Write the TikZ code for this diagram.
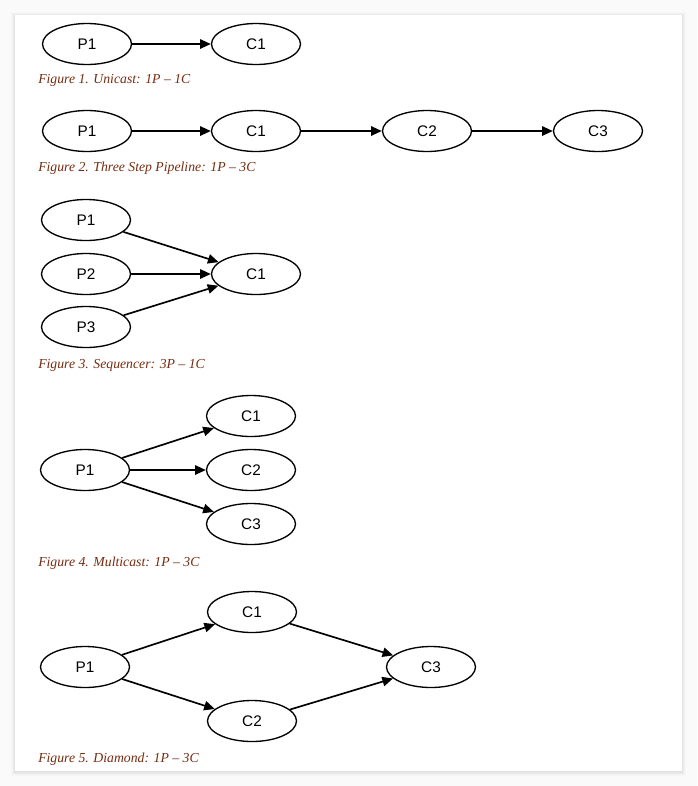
\documentclass[tikz,border=0pt]{standalone}
\usepackage{fontspec}
\setmainfont{Liberation Serif}
\newfontfamily\nodefont{Liberation Sans}
\usetikzlibrary{arrows.meta,shapes.geometric}
\definecolor{captioncolor}{RGB}{118,44,16}
\definecolor{pagegray}{RGB}{250,250,250}

\begin{document}
\begin{tikzpicture}[x=0.75pt, y=-0.75pt,
	proc/.style={draw, ellipse, line width=1pt, minimum width=66.75pt, minimum height=30.75pt, inner sep=0pt, font=\nodefont\fontsize{11.5}{13}\selectfont},
	flow/.style={-{Triangle[length=8pt,width=7pt]}, line width=1.25pt},
	caption/.style={anchor=base west, inner sep=0pt, text=captioncolor, font=\itshape\fontsize{10.3}{12}\selectfont}]
	% The page and the card with its shadow
	\fill[pagegray] (0, 0) rectangle (697, 786);
	\foreach \s/\g in {4/3, 3/5, 2/8, 1/11}
		\fill[black!\g] (15-\s, 15-\s+1) rectangle (682+\s, 771+\s+1);
	\fill[white] (15, 15) rectangle (682, 771);
	% Figure 1: unicast
	\node[proc] (uniP1) at (87, 44) {P1};
	\node[proc] (uniC1) at (256, 44) {C1};
	\draw[flow] (uniP1) -- (uniC1);
	\node[caption] (uniCap) at (38, 83) {Figure 1. Unicast: 1P – 1C};
	% Figure 2: three step pipeline
	\foreach \n/\x in {P1/87, C1/256, C2/427, C3/598}
		\node[proc] (pipe\n) at (\x, 131) {\n};
	\foreach \a/\b in {P1/C1, C1/C2, C2/C3}
		\draw[flow] (pipe\a) -- (pipe\b);
	\node[caption] (pipeCap) at (38, 171) {Figure 2. Three Step Pipeline: 1P – 3C};
	% Figure 3: sequencer
	\foreach \n/\y in {P1/220, P2/274, P3/327}
		\node[proc] (seq\n) at (86, \y) {\n};
	\node[proc] (seqC1) at (256, 274) {C1};
	\foreach \n in {P1, P2, P3}
		\draw[flow] (seq\n) -- (seqC1);
	\node[caption] (seqCap) at (38, 368) {Figure 3. Sequencer: 3P – 1C};
	% Figure 4: multicast
	\node[proc] (multiP1) at (85, 470) {P1};
	\foreach \n/\y in {C1/416, C2/470, C3/524} {
		\node[proc] (multi\n) at (251, \y) {\n};
		\draw[flow] (multiP1) -- (multi\n);
	}
	\node[caption] (multiCap) at (38, 566) {Figure 4. Multicast: 1P – 3C};
	% Figure 5: diamond
	\node[proc] (diaP1) at (85, 667) {P1};
	\node[proc] (diaC1) at (252, 612) {C1};
	\node[proc] (diaC2) at (252, 721) {C2};
	\node[proc] (diaC3) at (431, 667) {C3};
	\foreach \a/\b in {P1/C1, P1/C2, C1/C3, C2/C3}
		\draw[flow] (dia\a) -- (dia\b);
	\node[caption] (diaCap) at (38, 762) {Figure 5. Diamond: 1P – 3C};
\end{tikzpicture}
\end{document}
